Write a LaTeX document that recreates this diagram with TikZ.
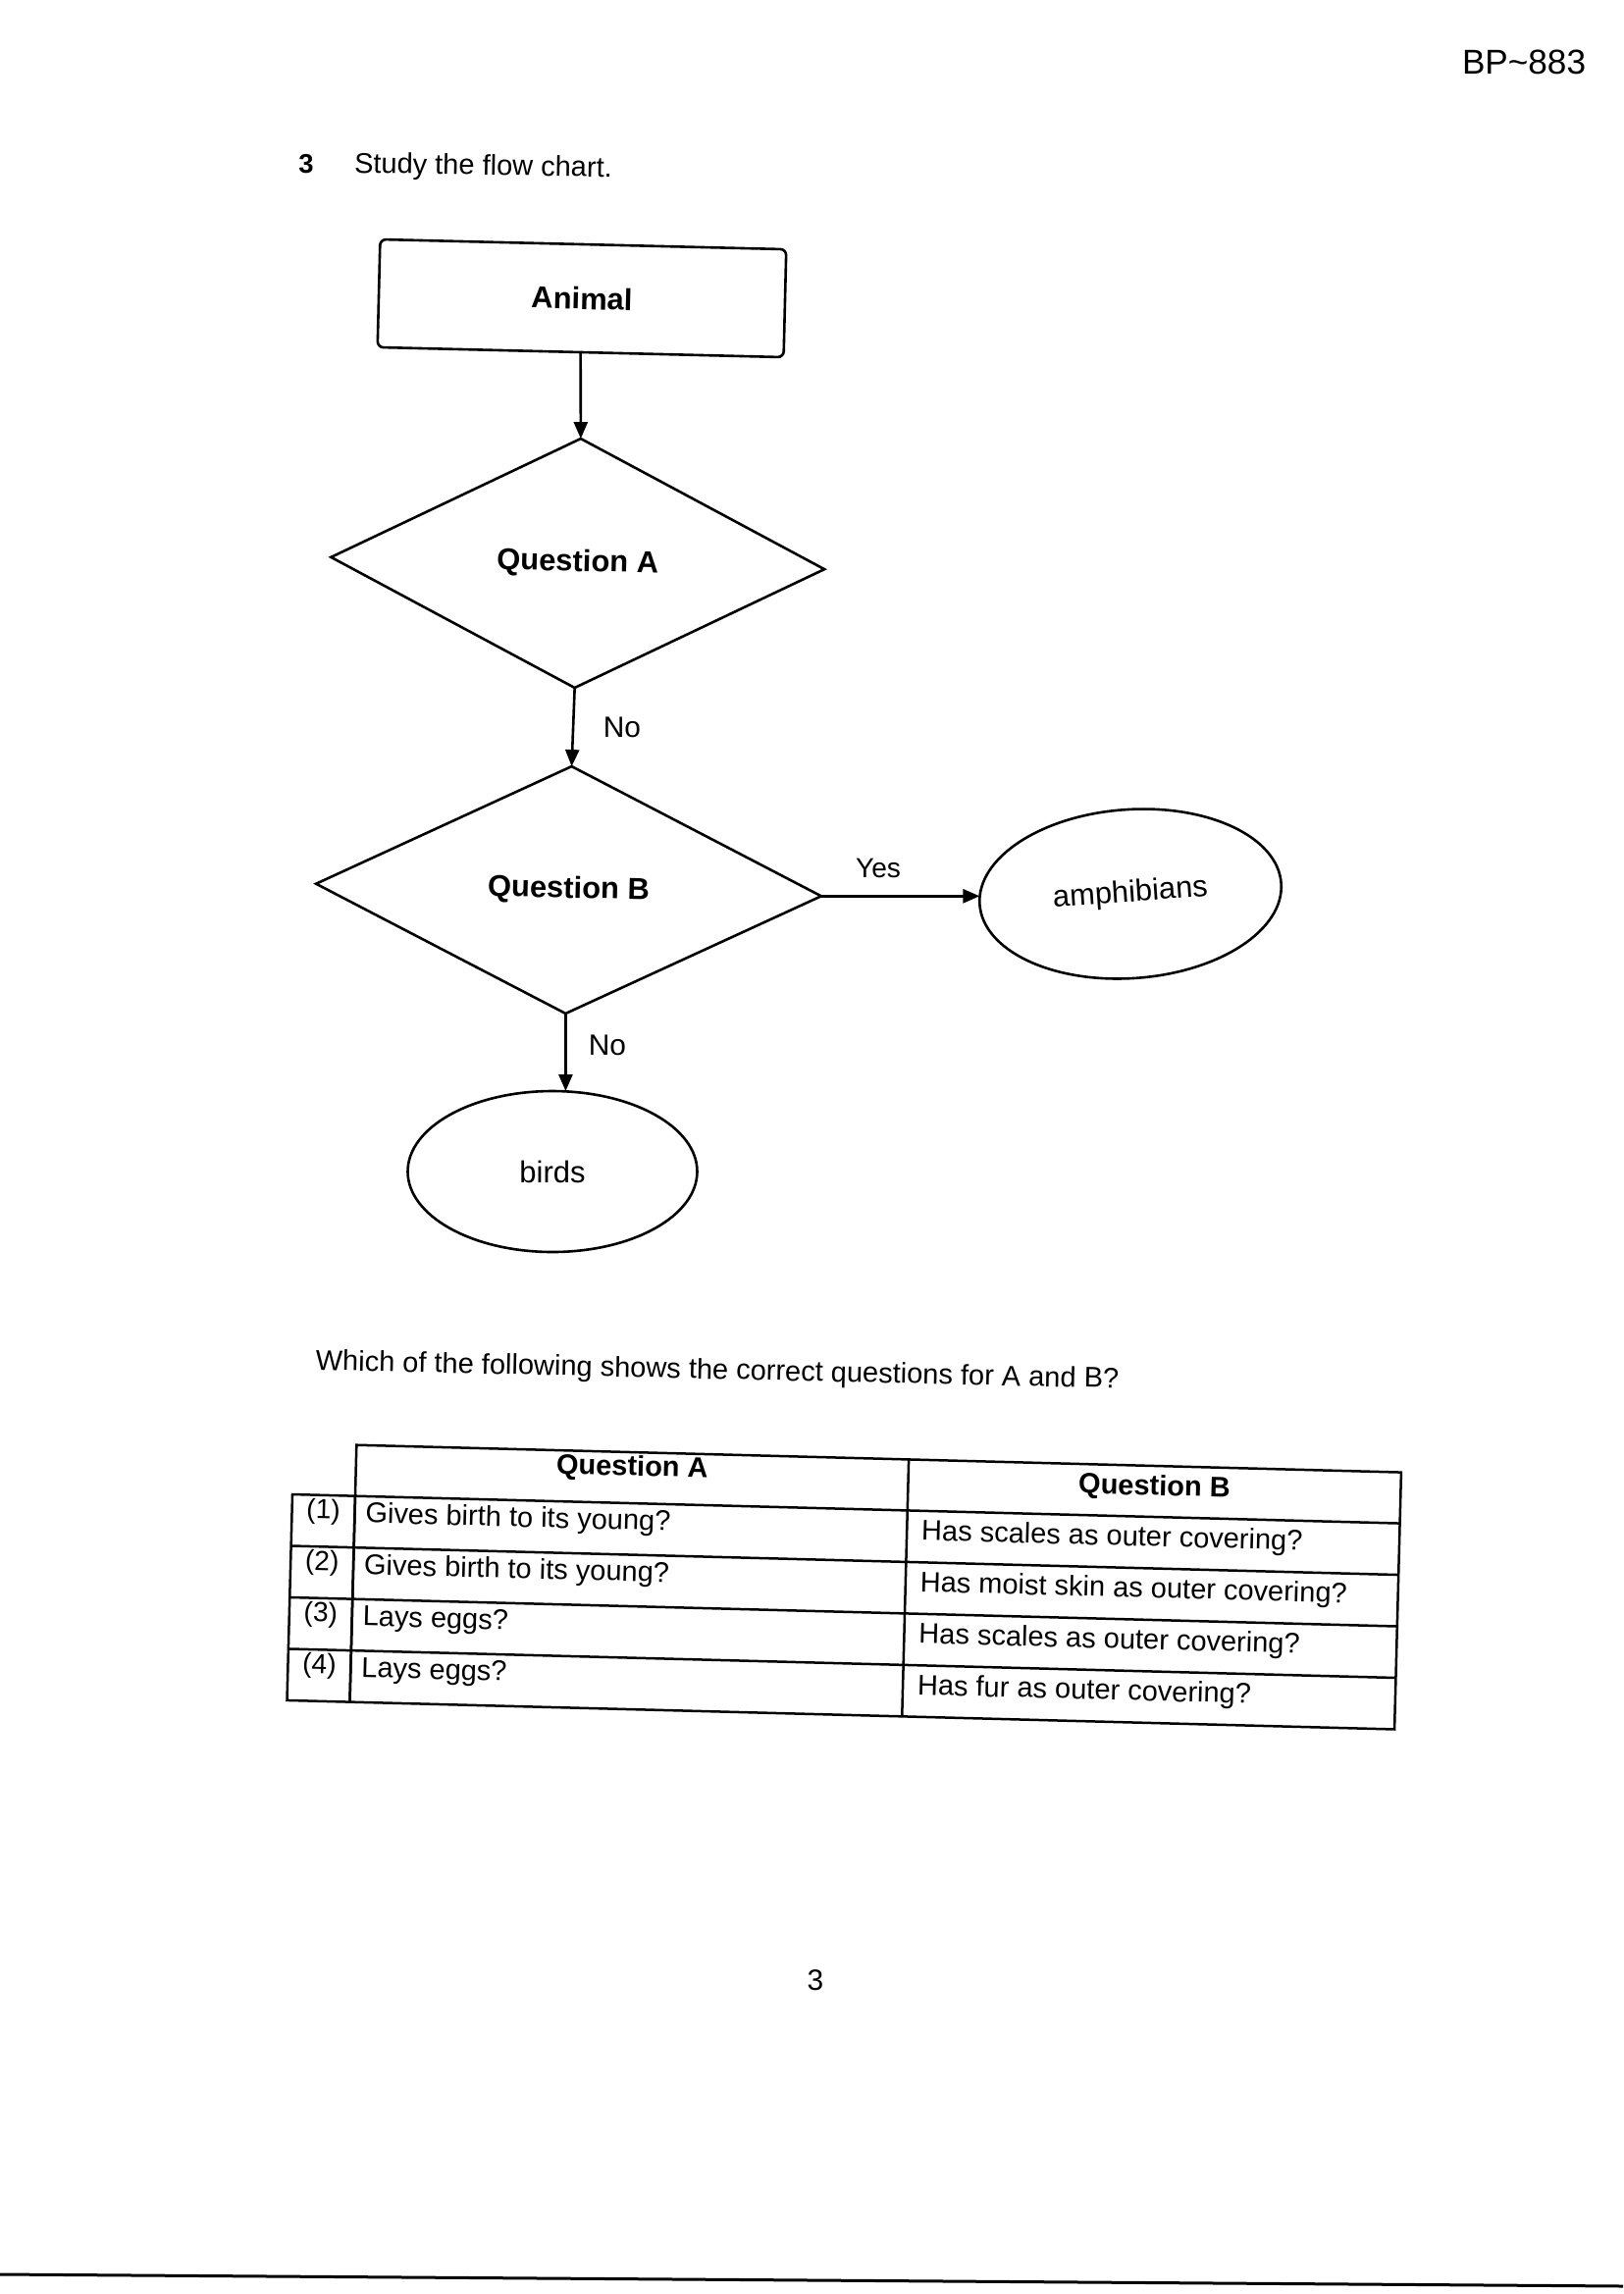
\documentclass[tikz,border=0pt]{standalone}
\usepackage{fontspec}
\setmainfont{Liberation Sans}
\usetikzlibrary{shapes.geometric,arrows.meta}
\begin{document}
\begin{tikzpicture}[x=0.1mm,y=-0.1mm,
  every node/.style={inner sep=0pt, outer sep=0pt},
  txt/.style={font=\fontsize{8.25pt}{10pt}\selectfont},
  numtxt/.style={font=\fontsize{8pt}{9pt}\selectfont},
  hdr/.style={font=\bfseries\fontsize{8.25pt}{10pt}\selectfont},
  lbl/.style={font=\fontsize{8.5pt}{10pt}\selectfont},
  boldlbl/.style={font=\bfseries\fontsize{8.8pt}{10pt}\selectfont},
  startbox/.style={draw, line width=0.26mm, rounded corners=0.6mm, minimum width=41.4mm, minimum height=11mm, rotate=-1.4, boldlbl},
  decision/.style={draw, diamond, line width=0.26mm, rotate=-1.4, boldlbl},
  blob/.style={draw, ellipse, line width=0.26mm, font=\fontsize{8.8pt}{10pt}\selectfont},
  flow/.style={line width=0.26mm, -{Triangle[length=1.7mm,width=1.4mm]}},
  rule/.style={line width=0.25mm},
]
\useasboundingbox (0,0) rectangle (1654,2338);

% header texts
\node[font=\fontsize{10pt}{12pt}\selectfont, anchor=base west] (code) at (1490,75) {BP\textasciitilde 883};
\node[font=\bfseries\fontsize{7.8pt}{9pt}\selectfont] (qnum) at (312,167) {3};
\node[txt, anchor=base west, rotate=-1] (intro) at (361,176) {Study the flow chart.};

% flow chart
\node[startbox] (animal) at (593,304) {Animal};
\node[decision, minimum width=50.3mm, minimum height=25.4mm] (qa) at (588.75,574) {Question A};
\node[decision, minimum width=51.5mm, minimum height=25.2mm] (qb) at (579.5,907) {Question B};
\node[blob, minimum width=30.8mm, minimum height=17.2mm, rotate=4] (amph) at (1152,911) {amphibians};
\node[blob, minimum width=29.5mm, minimum height=16.4mm] (birds) at (563,1194) {birds};

\draw[flow] (animal.south) -- (qa.north);
\draw[flow] (qa.south) -- (qb.north);
\draw[flow] (qb.east) -- (qb.east -| amph.west);
\draw[flow] (qb.south) -- (qb.south |- birds.north);

\node[lbl] (no1) at (634,741) {No};
\node[lbl] (no2) at (619,1065) {No};
\node[font=\fontsize{8pt}{10pt}\selectfont] (yes) at (895,885) {Yes};

% question
\node[txt, rotate=-1.3] (ask) at (731,1398) {Which of the following shows the correct questions for A and B?};

% table
\begin{scope}[shift={(298,1523)}, rotate=-1.5, transform shape]
  \draw[rule] (64,-52) rectangle (1129,210);
  \draw[rule] (0,0) rectangle (64,210);
  \draw[rule] (64,0) -- (1129,0);
  \draw[rule] (0,52.5) -- (1129,52.5);
  \draw[rule] (0,105) -- (1129,105);
  \draw[rule] (0,157.5) -- (1129,157.5);
  \draw[rule] (627,-52) -- (627,210);

  \node[hdr, anchor=base] (hA) at (345.5,-28) {Question A};
  \node[hdr, anchor=base] (hB) at (878,-22) {Question B};

  \node[numtxt, anchor=base] (n1) at (32,24) {(1)};
  \node[numtxt, anchor=base] (n2) at (32,76.5) {(2)};
  \node[numtxt, anchor=base] (n3) at (32,129) {(3)};
  \node[numtxt, anchor=base] (n4) at (32,181.5) {(4)};

  \node[txt, anchor=base west] (a1) at (75,27) {Gives birth to its young?};
  \node[txt, anchor=base west] (a2) at (75,79.5) {Gives birth to its young?};
  \node[txt, anchor=base west] (a3) at (75,132) {Lays eggs?};
  \node[txt, anchor=base west] (a4) at (75,184.5) {Lays eggs?};

  \node[txt, anchor=base west] (b1) at (642,30) {Has scales as outer covering?};
  \node[txt, anchor=base west] (b2) at (642,82.5) {Has moist skin as outer covering?};
  \node[txt, anchor=base west] (b3) at (642,135) {Has scales as outer covering?};
  \node[txt, anchor=base west] (b4) at (642,187.5) {Has fur as outer covering?};
\end{scope}

% page number and bottom rule
\node[font=\fontsize{8.5pt}{10pt}\selectfont] (page) at (831,2018) {3};
\coordinate (ruleL) at (0,2318);
\coordinate (ruleR) at (1654,2330);
\draw[line width=0.3mm] (ruleL) -- (ruleR);
\end{tikzpicture}
\end{document}
